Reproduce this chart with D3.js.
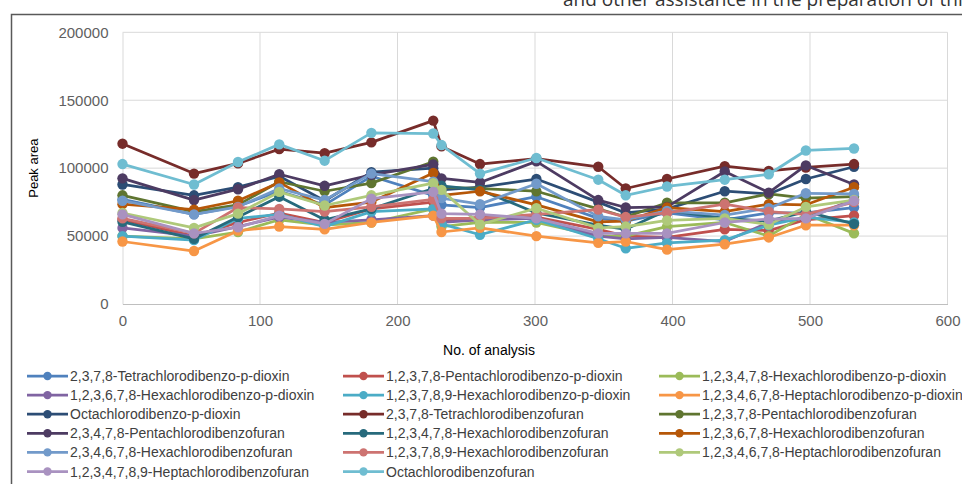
<!DOCTYPE html>
<html><head><meta charset="utf-8">
<script src="https://cdn.jsdelivr.net/npm/d3@7"></script>
<style>
body{margin:0;background:#fff;overflow:hidden;}
svg{display:block;font-family:"Liberation Sans",Arial,sans-serif;}
</style></head>
<body><svg id="c" width="962" height="484"></svg>
<script>
const xValues = [0, 52, 84, 114, 147, 181, 226, 232, 260, 301, 346, 366, 396, 438, 470, 497, 532];
const yTicks = [0, 50000, 100000, 150000, 200000];
const xTicks = [0, 100, 200, 300, 400, 500, 600];

const seriesNames = [
  "2,3,7,8-Tetrachlorodibenzo-p-dioxin",
  "1,2,3,7,8-Pentachlorodibenzo-p-dioxin",
  "1,2,3,4,7,8-Hexachlorodibenzo-p-dioxin",
  "1,2,3,6,7,8-Hexachlorodibenzo-p-dioxin",
  "1,2,3,7,8,9-Hexachlorodibenzo-p-dioxin",
  "1,2,3,4,6,7,8-Heptachlorodibenzo-p-dioxin",
  "Octachlorodibenzo-p-dioxin",
  "2,3,7,8-Tetrachlorodibenzofuran",
  "1,2,3,7,8-Pentachlorodibenzofuran",
  "2,3,4,7,8-Pentachlorodibenzofuran",
  "1,2,3,4,7,8-Hexachlorodibenzofuran",
  "1,2,3,6,7,8-Hexachlorodibenzofuran",
  "2,3,4,6,7,8-Hexachlorodibenzofuran",
  "1,2,3,7,8,9-Hexachlorodibenzofuran",
  "1,2,3,4,6,7,8-Heptachlorodibenzofuran",
  "1,2,3,4,7,8,9-Heptachlorodibenzofuran",
  "Octachlorodibenzofuran"
];
const seriesColors = ["#4f81bd","#c0504d","#9bbb59","#8064a2","#4bacc6","#f79646","#2c4d75","#772c2a","#5f7530","#4d3b62","#276a7c","#b65708","#729aca","#cd7371","#afc97a","#a992c0","#6fbdd1"];

const tcdd     = [77000, 66000, 72000, 83000, 73000, 94000, 80000, 73000, 71000, 79000, 63000, 61000, 67000, 62000, 67000, 67000, 71000];
const pecdd    = [62000, 50000, 60000, 67000, 60000, 70000, 75000, 61000, 64000, 64000, 55000, 50000, 49000, 55000, 54000, 62000, 65000];
const hxcdd478 = [50000, 48000, 53000, 62000, 58000, 60000, 70000, 57000, 60000, 60000, 50000, 50000, 57000, 60000, 50000, 66000, 52000];
const hxcdd678 = [56000, 50000, 57000, 64000, 60000, 62000, 65000, 60000, 62000, 63000, 50000, 48000, 49000, 46000, 60000, 63000, 77000];
const hxcdd789 = [50000, 47000, 63000, 66000, 57000, 68000, 70000, 59000, 51000, 62000, 48000, 41000, 45000, 47000, 58000, 64000, 60000];
const hpcdd    = [46000, 39000, 54000, 57000, 55000, 60000, 65000, 53000, 56000, 50000, 45000, 46000, 40000, 44000, 49000, 58000, 58000];
const ocdd     = [88000, 80000, 86000, 94000, 76000, 97000, 100000, 84000, 86000, 92000, 75000, 67000, 70000, 83000, 81000, 92000, 101000];
const tcdf     = [118000, 96000, 103500, 114000, 111000, 119000, 135000, 116000, 103000, 107000, 101000, 85000, 92000, 101500, 98000, 100500, 103000];
const pecdf123 = [80000, 68000, 73000, 90000, 83000, 89000, 104700, 86000, 85000, 83000, 70000, 64000, 74500, 74500, 81000, 78000, 79000];
const pecdf234 = [92500, 76500, 84500, 95500, 87000, 95000, 102800, 92500, 89500, 105000, 76500, 71000, 71500, 97500, 82000, 102000, 88000];
const hxcdf478 = [60500, 48000, 64000, 79000, 62000, 70000, 85000, 87000, 84000, 67000, 58000, 55000, 69000, 63000, 61000, 68000, 59000];
const hxcdf678 = [73500, 69500, 76000, 89500, 71000, 75000, 96500, 80000, 83000, 73000, 60500, 61000, 71000, 68000, 73500, 73000, 86000];
const hxcdf2346 = [76000, 66000, 71500, 85000, 76500, 96000, 90000, 78000, 73500, 88500, 64500, 62000, 68500, 65500, 70500, 81500, 81000];
const hxcdf789 = [63000, 52000, 71000, 70000, 68000, 71500, 77000, 63000, 63000, 66000, 69500, 64000, 67000, 73500, 68000, 66000, 75000];
const hpcdf678 = [67000, 56000, 66500, 82500, 72500, 80000, 89000, 84000, 58500, 70500, 56000, 57000, 61500, 63000, 58500, 71500, 76500];
const hpcdf789 = [66000, 52000, 56500, 65000, 59000, 77500, 82500, 66500, 66000, 63000, 52000, 52000, 52000, 60000, 62500, 63000, 76000];
const ocdf     = [103000, 88000, 104500, 117500, 105500, 126000, 125500, 117000, 96000, 107500, 91500, 80000, 86500, 91500, 95500, 113000, 114500];

const seriesValues = [tcdd, pecdd, hxcdd478, hxcdd678, hxcdd789, hpcdd, ocdd, tcdf, pecdf123, pecdf234, hxcdf478, hxcdf678, hxcdf2346, hxcdf789, hpcdf678, hpcdf789, ocdf];

const svg = d3.select("#c");

// page text above chart (cut off at the top edge, as in the source page)
svg.append("text").attr("x", 563).attr("y", 6).attr("font-size", 19).attr("fill", "#333")
  .attr("font-family", "'Open Sans',sans-serif")
  .text("and other assistance in the preparation of this manuscript.");

// chart frame
svg.append("rect").attr("x", 11.5).attr("y", 14.5).attr("width", 970).attr("height", 490)
  .attr("fill", "none").attr("stroke", "#595959").attr("stroke-width", 1.5);

const x = d3.scaleLinear().domain([0, 600]).range([122.5, 947.5]);
const y = d3.scaleLinear().domain([0, 200000]).range([304, 32.3]);

// gridlines
const g = svg.append("g");
g.selectAll("line.h").data(yTicks.filter(d => d > 0)).join("line")
  .attr("x1", x(0)).attr("x2", x(600)).attr("y1", d => y(d)).attr("y2", d => y(d))
  .attr("stroke", "#d9d9d9").attr("stroke-width", 1);
g.selectAll("line.v").data(xTicks.filter(d => d > 0)).join("line")
  .attr("y1", y(0)).attr("y2", y(200000)).attr("x1", d => x(d)).attr("x2", d => x(d))
  .attr("stroke", "#d9d9d9").attr("stroke-width", 1);

// axes
const yAxis = svg.append("g").attr("transform", `translate(${x(0)},0)`)
  .call(d3.axisLeft(y).tickValues(yTicks).tickSize(0).tickPadding(14).tickFormat(d3.format("d")));
yAxis.select(".domain").attr("stroke", "#d9d9d9");
yAxis.selectAll("text").attr("font-size", 15).attr("fill", "#606060").attr("font-family", "'Liberation Sans',Arial,sans-serif");

const xAxis = svg.append("g").attr("transform", `translate(0,${y(0)})`)
  .call(d3.axisBottom(x).tickValues(xTicks).tickSize(0).tickPadding(11).tickFormat(d3.format("d")));
xAxis.select(".domain").attr("stroke", "#bfbfbf");
xAxis.selectAll("text").attr("font-size", 15).attr("fill", "#606060").attr("font-family", "'Liberation Sans',Arial,sans-serif");

// axis titles
svg.append("text").attr("transform", `translate(38,${y(100000)}) rotate(-90)`)
  .attr("text-anchor", "middle").attr("font-size", 13).attr("fill", "#000").text("Peak area");
svg.append("text").attr("x", 489).attr("y", 355).attr("text-anchor", "middle")
  .attr("font-size", 14).attr("fill", "#000").text("No. of analysis");

// series
const line = d3.line().x((d, i) => x(xValues[i])).y(d => y(d));
seriesValues.forEach((vals, si) => {
  const sg = svg.append("g");
  sg.append("path").datum(vals).attr("d", line).attr("fill", "none")
    .attr("stroke", seriesColors[si]).attr("stroke-width", 2.75).attr("stroke-linejoin", "round");
  sg.selectAll("circle").data(vals).join("circle")
    .attr("cx", (d, i) => x(xValues[i])).attr("cy", d => y(d)).attr("r", 5.2)
    .attr("fill", seriesColors[si]);
});

// legend
const colX = [27, 343, 659];
const rowY0 = 376, rowDy = 19.1;
seriesNames.forEach((name, i) => {
  const col = i % 3, row = Math.floor(i / 3);
  const lx = colX[col], ly = rowY0 + row * rowDy;
  const lg = svg.append("g");
  lg.append("line").attr("x1", lx).attr("x2", lx + 41).attr("y1", ly).attr("y2", ly)
    .attr("stroke", seriesColors[i]).attr("stroke-width", 2.75);
  lg.append("circle").attr("cx", lx + 20.5).attr("cy", ly).attr("r", 4.2).attr("fill", seriesColors[i]);
  lg.append("text").attr("x", lx + 43).attr("y", ly + 5).attr("font-size", 14)
    .attr("fill", "#404040").text(name);
});
</script></body></html>
